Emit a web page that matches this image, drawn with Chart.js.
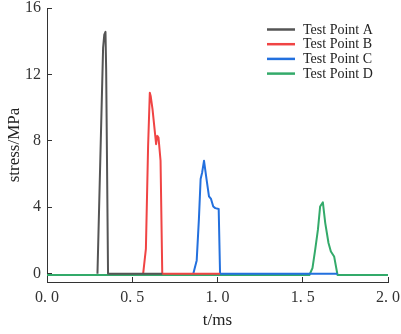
<!DOCTYPE html>
<html>
<head>
<meta charset="utf-8">
<script src="https://cdn.jsdelivr.net/npm/chart.js@4.4.0/dist/chart.umd.min.js"></script>
<style>
  html, body { margin: 0; padding: 0; background: #fff; }
  #wrap { width: 401px; height: 334px; }
</style>
</head>
<body>
<div id="wrap"><canvas id="myChart" width="401" height="334"></canvas></div>
<script>
  // time (ms) / stress (MPa) per test point
  let tA = [0.296, 0.329, 0.336, 0.343, 0.347, 0.358, 0.676];
  let vA = [0, 13.6, 14.4, 14.56, 12.3, 0, 0];

  let tB = [0.564, 0.580, 0.593, 0.603, 0.608, 0.619, 0.635, 0.640, 0.647, 0.654, 0.666, 0.676, 1.015];
  let vB = [0, 1.5, 7.7, 10.9, 10.7, 9.9, 8.3, 7.8, 8.3, 8.2, 6.8, 0, 0];

  let tC = [0.858, 0.878, 0.891, 0.901, 0.910, 0.921, 0.936, 0.950, 0.962, 0.975, 0.987, 1.007, 1.015, 1.704];
  let vC = [0, 0.8, 3.3, 5.7, 6.1, 6.8, 5.66, 4.66, 4.5, 4.05, 3.95, 3.9, 0, 0];

  let tD = [0, 1.539, 1.557, 1.573, 1.589, 1.602, 1.618, 1.632, 1.651, 1.665, 1.684, 1.704, 2.0];
  let vD = [-0.08, -0.08, 0.34, 1.45, 2.65, 4.05, 4.3, 3.05, 1.85, 1.34, 1.04, -0.08, -0.08];

  let seriesNames = ["Test Point A", "Test Point B", "Test Point C", "Test Point D"];
  let seriesColors = ["#555555", "#f04444", "#2370de", "#33aa6a"];

  let xTicks = [0, 0.5, 1.0, 1.5, 2.0];
  let xTickLabels = ["0. 0", "0. 5", "1. 0", "1. 5", "2. 0"];
  let yTicks = [0, 4, 8, 12, 16];
  let yTickLabels = ["0", "4", "8", "12", "16"];

  function toPoints(ts, vs) {
    return ts.map((t, i) => ({ x: t, y: vs[i] }));
  }

  let allT = [tA, tB, tC, tD];
  let allV = [vA, vB, vC, vD];
  let datasets = [];
  for (let i = 0; i < 4; i++) {
    datasets.push({
      label: seriesNames[i],
      data: toPoints(allT[i], allV[i]),
      borderColor: seriesColors[i],
      borderWidth: 2,
      pointRadius: 0,
      tension: 0,
      fill: false,
      borderJoinStyle: "round",
    });
  }

  const serif = "'Liberation Serif', 'Times New Roman', serif";

  // legend drawn as short lines with labels, top right of the plot
  const lineLegend = {
    id: "lineLegend",
    afterDraw(chart) {
      let ctx = chart.ctx;
      ctx.save();
      ctx.font = "14px " + serif;
      ctx.textBaseline = "middle";
      chart.data.datasets.forEach((ds, i) => {
        let y = 29.5 + i * 14.7;
        ctx.strokeStyle = ds.borderColor;
        ctx.lineWidth = 2.5;
        ctx.beginPath();
        ctx.moveTo(267, y);
        ctx.lineTo(295, y);
        ctx.stroke();
        ctx.fillStyle = "#222";
        ctx.fillText(ds.label, 303, y + 0.5);
      });
      ctx.restore();
    },
  };

  let ctx = document.getElementById("myChart").getContext("2d");
  let chart = new Chart(ctx, {
    type: "line",
    data: { datasets: datasets },
    plugins: [lineLegend],
    options: {
      responsive: false,
      animation: false,
      layout: { padding: { top: 8, right: 13, left: 0, bottom: 0 } },
      plugins: { legend: { display: false }, tooltip: { enabled: false } },
      scales: {
        x: {
          type: "linear",
          min: 0,
          max: 2,
          afterBuildTicks: (s) => { s.ticks = xTicks.map((v) => ({ value: v })); },
          afterFit: (s) => { s.height = 52; s.paddingLeft = 0; s.paddingRight = 0; },
          border: { color: "#333", width: 1 },
          grid: { drawOnChartArea: false, tickLength: -5, color: "#333" },
          ticks: {
            callback: (v) => xTickLabels[xTicks.indexOf(v)],
            font: { family: serif, size: 16 },
            color: "#333",
            padding: 11,
            maxRotation: 0,
          },
          title: {
            display: true,
            text: "t/ms",
            font: { family: serif, size: 17 },
            color: "#222",
            padding: { top: 0, bottom: 3 },
          },
        },
        y: {
          min: -0.5,
          max: 16,
          afterBuildTicks: (s) => { s.ticks = yTicks.map((v) => ({ value: v })); },
          afterFit: (s) => { s.width = 47; s.paddingTop = 0; s.paddingBottom = 0; },
          border: { color: "#333", width: 1 },
          grid: { drawOnChartArea: false, tickLength: -5, color: "#333" },
          ticks: {
            callback: (v) => yTickLabels[yTicks.indexOf(v)],
            font: { family: serif, size: 16 },
            color: "#333",
            padding: 11,
          },
          title: {
            display: true,
            text: "stress/MPa",
            font: { family: serif, size: 17 },
            color: "#222",
            padding: { top: 4, bottom: 0 },
          },
        },
      },
    },
  });
</script>
</body>
</html>
